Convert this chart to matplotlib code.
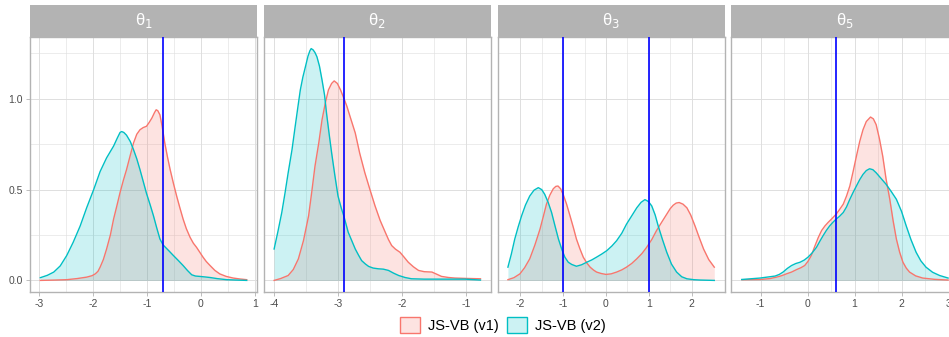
import matplotlib
matplotlib.use("Agg")
import matplotlib.pyplot as plt
from matplotlib.patches import Rectangle, Patch
from matplotlib.colors import to_rgb

plt.rcParams['font.family'] = ['Liberation Sans', 'DejaVu Sans']
plt.rcParams['mathtext.fontset'] = 'dejavusans'
plt.rcParams['axes.unicode_minus'] = False

# ---- data (density estimates) ----
panel_titles = ['θ$_1$', 'θ$_2$', 'θ$_3$', 'θ$_5$']
series_labels = ['JS-VB (v1)', 'JS-VB (v2)']

# theta 1
t1_v1_x = [-2.98, -2.70, -2.49, -2.30, -2.12, -2.02, -1.96, -1.91, -1.87, -1.81, -1.75, -1.68,
           -1.62, -1.56, -1.50, -1.44, -1.38, -1.31, -1.25, -1.19, -1.13, -1.07, -1.01, -0.96,
           -0.91, -0.86, -0.83, -0.80, -0.76, -0.72, -0.67, -0.62, -0.57, -0.51, -0.45, -0.39,
           -0.33, -0.27, -0.20, -0.14, -0.08, -0.02, 0.04, 0.10, 0.17, 0.26, 0.35, 0.47, 0.60,
           0.72, 0.85]
t1_v1_y = [0.0, 0.002, 0.004, 0.01, 0.018, 0.026, 0.036, 0.05, 0.073, 0.115, 0.173, 0.25,
           0.338, 0.41, 0.484, 0.55, 0.61, 0.69, 0.757, 0.805, 0.83, 0.842, 0.849, 0.87,
           0.894, 0.925, 0.94, 0.935, 0.912, 0.85, 0.757, 0.68, 0.61, 0.535, 0.465, 0.40,
           0.338, 0.285, 0.237, 0.205, 0.182, 0.155, 0.128, 0.104, 0.082, 0.055, 0.036, 0.022, 0.013,
           0.008, 0.004]
t1_v2_x = [-2.98, -2.85, -2.73, -2.61, -2.49, -2.37, -2.24, -2.12, -1.99, -1.87, -1.75, -1.68,
           -1.62, -1.55, -1.50, -1.47, -1.43, -1.38, -1.31, -1.25, -1.19, -1.13, -1.07, -1.01,
           -0.94, -0.88, -0.82, -0.76, -0.70, -0.60, -0.51, -0.42, -0.33, -0.25, -0.17, -0.10,
           -0.02, 0.08, 0.17, 0.30, 0.48, 0.65, 0.85]
t1_v2_y = [0.015, 0.028, 0.046, 0.08, 0.137, 0.21, 0.30, 0.40, 0.50, 0.60, 0.675, 0.71,
           0.74, 0.785, 0.815, 0.82, 0.815, 0.80, 0.765, 0.72, 0.67, 0.61, 0.545, 0.48,
           0.415, 0.356, 0.29, 0.228, 0.195, 0.165, 0.137, 0.11, 0.082, 0.055, 0.031, 0.024,
           0.022, 0.019, 0.016, 0.01, 0.004, 0.002, 0.0]

# theta 2
t2_v1_x = [-4.0, -3.90, -3.78, -3.70, -3.62, -3.54, -3.46, -3.41, -3.36, -3.30, -3.25, -3.20,
           -3.15, -3.10, -3.06, -3.01, -2.96, -2.91, -2.86, -2.80, -2.73, -2.66, -2.58, -2.50,
           -2.42, -2.34, -2.26, -2.21, -2.16, -2.10, -2.03, -1.97, -1.90, -1.82, -1.74, -1.65,
           -1.53, -1.46, -1.38, -1.27, -1.17, -1.0, -0.77]
t2_v1_y = [0.0, 0.01, 0.027, 0.06, 0.119, 0.22, 0.356, 0.49, 0.63, 0.76, 0.885, 0.975,
           1.049, 1.085, 1.099, 1.085, 1.049, 1.005, 0.958, 0.89, 0.812, 0.70, 0.593, 0.50,
           0.41, 0.33, 0.265, 0.225, 0.192, 0.172, 0.155, 0.13, 0.10, 0.075, 0.055, 0.048,
           0.046, 0.035, 0.022, 0.016, 0.013, 0.011, 0.009]
t2_v2_x = [-4.0, -3.94, -3.88, -3.83, -3.78, -3.72, -3.67, -3.63, -3.59, -3.55, -3.51, -3.47,
           -3.44, -3.42, -3.39, -3.36, -3.33, -3.29, -3.25, -3.21, -3.18, -3.14, -3.10, -3.05,
           -3.0, -2.95, -2.91, -2.84, -2.78, -2.73, -2.68, -2.63, -2.57, -2.52, -2.45, -2.37,
           -2.29, -2.21, -2.13, -2.05, -1.95, -1.85, -1.65, -1.43, -1.20, -1.01, -0.77]
t2_v2_y = [0.173, 0.27, 0.374, 0.48, 0.593, 0.72, 0.849, 0.95, 1.049, 1.12, 1.177, 1.235,
           1.265, 1.277, 1.27, 1.255, 1.232, 1.18, 1.104, 1.02, 0.922, 0.81, 0.703, 0.58,
           0.465, 0.40, 0.356, 0.265, 0.215, 0.173, 0.14, 0.109, 0.09, 0.077, 0.068, 0.064,
           0.062, 0.055, 0.04, 0.027, 0.016, 0.009, 0.007, 0.007, 0.007, 0.007, 0.002]

# theta 3
t3_v1_x = [-2.29, -2.15, -2.01, -1.90, -1.78, -1.66, -1.54, -1.46, -1.39, -1.31, -1.23, -1.17,
           -1.12, -1.06, -1.0, -0.92, -0.84, -0.76, -0.69, -0.61, -0.53, -0.45, -0.37, -0.29,
           -0.22, -0.11, 0.0, 0.12, 0.25, 0.37, 0.48, 0.60, 0.72, 0.84, 0.95, 1.07, 1.18, 1.30,
           1.42, 1.50, 1.57, 1.64, 1.71, 1.80, 1.89, 1.98, 2.08, 2.18, 2.28, 2.40, 2.53]
t3_v1_y = [0.004, 0.015, 0.036, 0.07, 0.119, 0.195, 0.283, 0.355, 0.42, 0.47, 0.505, 0.518,
           0.52, 0.505, 0.474, 0.42, 0.356, 0.29, 0.228, 0.175, 0.128, 0.097, 0.073, 0.057,
           0.046, 0.038, 0.033, 0.036, 0.046, 0.058, 0.073, 0.093, 0.119, 0.148, 0.182, 0.225, 0.274, 0.32,
           0.365, 0.395, 0.414, 0.426, 0.429, 0.42, 0.40, 0.36, 0.30, 0.235, 0.173, 0.115, 0.073]
t3_v2_x = [-2.29, -2.21, -2.13, -2.05, -1.97, -1.88, -1.78, -1.68, -1.58, -1.50, -1.43, -1.35,
           -1.27, -1.19, -1.11, -1.03, -0.96, -0.88, -0.80, -0.69, -0.57, -0.45, -0.33, -0.22,
           -0.10, 0.02, 0.14, 0.25, 0.37, 0.48, 0.60, 0.72, 0.82, 0.91, 0.99, 1.07, 1.15, 1.22,
           1.32, 1.42, 1.53, 1.65, 1.77, 1.89, 2.05, 2.20, 2.53]
t3_v2_y = [0.073, 0.145, 0.228, 0.295, 0.356, 0.415, 0.465, 0.497, 0.511, 0.50, 0.474, 0.43,
           0.374, 0.30, 0.228, 0.17, 0.128, 0.10, 0.088, 0.078, 0.086, 0.10, 0.113, 0.128,
           0.145, 0.164, 0.19, 0.219, 0.26, 0.31, 0.355, 0.40, 0.43, 0.445, 0.435, 0.41, 0.36, 0.30,
           0.225, 0.155, 0.09, 0.046, 0.02, 0.009, 0.004, 0.002, 0.0]

# theta 5
t5_v1_x = [-1.40, -1.01, -0.80, -0.66, -0.55, -0.45, -0.34, -0.23, -0.14, -0.06, 0.01, 0.08,
           0.15, 0.23, 0.30, 0.37, 0.44, 0.51, 0.61, 0.68, 0.76, 0.83, 0.90, 0.97, 1.04, 1.11,
           1.18, 1.25, 1.34, 1.40, 1.46, 1.53, 1.60, 1.67, 1.75, 1.82, 1.89, 1.96, 2.03, 2.10,
           2.17, 2.30, 2.45, 2.70, 2.99]
t5_v1_y = [0.004, 0.005, 0.01, 0.018, 0.026, 0.036, 0.046, 0.06, 0.07, 0.082, 0.105, 0.137,
           0.185, 0.237, 0.275, 0.30, 0.32, 0.338, 0.365, 0.39, 0.42, 0.465, 0.52, 0.60, 0.684, 0.765,
           0.83, 0.875, 0.90, 0.89, 0.858, 0.78, 0.684, 0.56, 0.447, 0.33, 0.228, 0.155, 0.10, 0.068,
           0.046, 0.025, 0.013, 0.006, 0.002]
t5_v2_x = [-1.40, -1.01, -0.69, -0.60, -0.52, -0.43, -0.34, -0.25, -0.16, -0.07, 0.01, 0.10,
           0.19, 0.26, 0.33, 0.40, 0.47, 0.54, 0.61, 0.68, 0.76, 0.83, 0.90, 0.97, 1.04, 1.11,
           1.18, 1.25, 1.32, 1.39, 1.46, 1.56, 1.67, 1.78, 1.89, 2.00, 2.10, 2.20, 2.31, 2.41,
           2.52, 2.66, 2.81, 2.99]
t5_v2_y = [0.005, 0.013, 0.024, 0.033, 0.046, 0.066, 0.082, 0.093, 0.10, 0.112, 0.128, 0.152,
           0.182, 0.215, 0.246, 0.275, 0.30, 0.32, 0.338, 0.353, 0.374, 0.405, 0.447, 0.485, 0.52, 0.555,
           0.584, 0.605, 0.615, 0.61, 0.593, 0.563, 0.53, 0.49, 0.447, 0.38, 0.30, 0.225, 0.155, 0.108,
           0.073, 0.045, 0.027, 0.013]

# true values (vertical lines)
true_values = [[-0.70], [-2.91], [-1.0, 1.0], [0.60]]

# x tick positions per panel
x_ticks = [[-3, -2, -1, 0, 1], [-4, -3, -2, -1], [-2, -1, 0, 1, 2], [-1, 0, 1, 2, 3]]
y_ticks = [0.0, 0.5, 1.0]

panels = [
    [(t1_v1_x, t1_v1_y), (t1_v2_x, t1_v2_y)],
    [(t2_v1_x, t2_v1_y), (t2_v2_x, t2_v2_y)],
    [(t3_v1_x, t3_v1_y), (t3_v2_x, t3_v2_y)],
    [(t5_v1_x, t5_v1_y), (t5_v2_x, t5_v2_y)],
]

colors = ['#F8766D', '#00BFC4']
grey70 = '#B3B3B3'
grey87 = '#DEDEDE'

W, H = 949, 337
fig = plt.figure(figsize=(W / 100, H / 100), dpi=100)

pan_left0 = 30
pan_w = 227
pan_step = 233.8
pan_top = 37
pan_bot = 292
strip_h = 32

ymax = max(max(s[1]) for p in panels for s in p)
ylim = (-0.05 * ymax, 1.05 * ymax)

for i, series in enumerate(panels):
    left = pan_left0 + i * pan_step
    ax = fig.add_axes([left / W, (H - pan_bot) / H, pan_w / W, (pan_bot - pan_top) / H])

    xs = [v for s in series for v in s[0]]
    xmin, xmax = min(xs), max(xs)
    pad = 0.05 * (xmax - xmin)
    ax.set_xlim(xmin - pad, xmax + pad)
    ax.set_ylim(*ylim)

    for k, (x, y) in enumerate(series):
        ax.fill_between(x, 0, y, color=colors[k], alpha=0.2, lw=0, zorder=2)
        ax.plot(x, y, color=colors[k], lw=1.0, zorder=3)

    for v in true_values[i]:
        ax.axvline(v, color='blue', lw=1.2, zorder=4)

    xt = x_ticks[i]
    ax.set_xticks(xt)
    ax.set_xticks([(a + b) / 2 for a, b in zip(xt[:-1], xt[1:])], minor=True)
    ax.set_yticks(y_ticks)
    ax.set_yticks([0.25, 0.75, 1.25], minor=True)
    ax.grid(True, which='major', color=grey87, lw=0.7, zorder=0)
    ax.grid(True, which='minor', color=grey87, lw=0.4, zorder=0)
    ax.set_axisbelow(True)

    ax.tick_params(which='major', length=3, width=0.6, color=grey70,
                   labelsize=7.5, labelcolor='#4D4D4D', pad=2)
    ax.tick_params(which='minor', length=0)
    if i == 0:
        ax.set_yticklabels(['0.0', '0.5', '1.0'])
    else:
        ax.tick_params(axis='y', which='major', length=0, labelleft=False)

    for sp in ax.spines.values():
        sp.set_color(grey70)
        sp.set_linewidth(1.0)

    sh = strip_h / (pan_bot - pan_top)
    ax.add_patch(Rectangle((0, 1), 1, sh, transform=ax.transAxes,
                           facecolor=grey70, edgecolor='none', clip_on=False, zorder=5))
    ax.text(0.5, 1 + sh / 2, panel_titles[i], transform=ax.transAxes,
            ha='center', va='center', color='white', fontsize=12, zorder=6)

handles = [Patch(facecolor=(*to_rgb(c), 0.2), edgecolor=c, lw=1.0) for c in colors]
fig.legend(handles, series_labels, loc='center', bbox_to_anchor=(503 / W, (H - 325) / H),
           ncol=2, frameon=False, fontsize=10.5, handlelength=1.35, handleheight=1.3,
           handletextpad=0.55, columnspacing=0.6)

fig.savefig('out.png', dpi=100)
